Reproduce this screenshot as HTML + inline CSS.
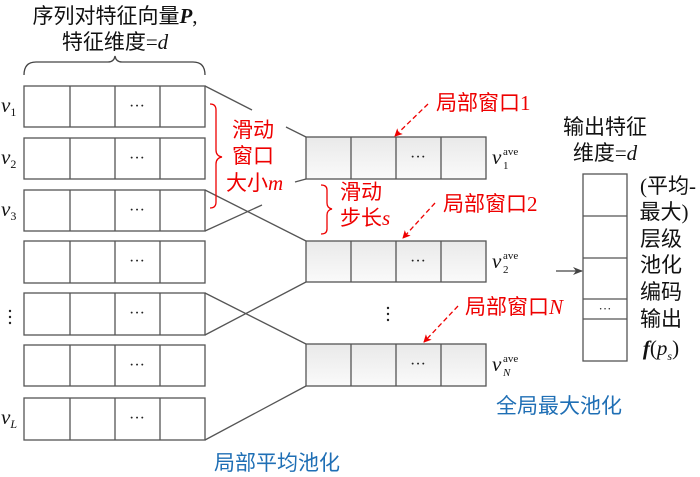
<!DOCTYPE html><html><head><meta charset="utf-8"><style>body{margin:0;background:#fff}svg{display:block}text{font-family:"Liberation Serif","Noto Sans CJK SC",serif}</style></head><body>
<svg width="700" height="477" viewBox="0 0 700 477" xmlns="http://www.w3.org/2000/svg">
<defs><linearGradient id="g" x1="0" y1="0" x2="0" y2="1"><stop offset="0" stop-color="#e9e9e9"/><stop offset="1" stop-color="#fafafa"/></linearGradient>
<marker id="ar" markerWidth="8" markerHeight="8" refX="7" refY="4" orient="auto" markerUnits="userSpaceOnUse"><path d="M0,0 L8,4 L0,8 L2,4z" fill="#e00"/></marker>
<marker id="ak" markerWidth="10" markerHeight="8" refX="9" refY="4" orient="auto" markerUnits="userSpaceOnUse"><path d="M0,0 L10,4 L0,8 L3,4z" fill="#444"/></marker></defs>
<g font-size="21" fill="#111" text-anchor="middle">
<text x="115" y="23">序列对特征向量<tspan font-style="italic" font-weight="bold">P</tspan>,</text>
<text x="115" y="49">特征维度=<tspan font-style="italic">d</tspan></text>
<text x="605" y="134">输出特征</text>
<text x="605" y="160">维度=<tspan font-style="italic">d</tspan></text>
<text x="668" y="193">(平均-</text>
<text x="664" y="219">最大)</text>
<text x="661" y="246">层级</text>
<text x="661" y="272">池化</text>
<text x="661" y="299">编码</text>
<text x="661" y="326">输出</text>
<text x="661" y="355"><tspan font-style="italic" font-weight="bold">f</tspan>(<tspan font-style="italic">p</tspan><tspan font-size="12" dy="5" font-style="italic">s</tspan><tspan dy="-5">)</tspan></text>
</g>
<path d="M24,75 Q24,62 36,62 L108,62 Q114,62 115,56 Q116,62 122,62 L193,62 Q205,62 205,75" fill="none" stroke="#444" stroke-width="1.3"/>
<g stroke="#555" stroke-width="1.3" fill="#fff">
<rect x="24" y="86" width="181" height="41"/><rect x="24" y="138" width="181" height="41"/><rect x="24" y="190" width="181" height="41"/><rect x="24" y="241" width="181" height="42"/><rect x="24" y="293" width="181" height="42"/><rect x="24" y="345" width="181" height="41"/><rect x="24" y="398" width="181" height="42"/>
<path d="M70,86V127M115,86V127M160,86V127M70,138V179M115,138V179M160,138V179M70,190V231M115,190V231M160,190V231M70,241V283M115,241V283M160,241V283M70,293V335M115,293V335M160,293V335M70,345V386M115,345V386M160,345V386M70,398V440M115,398V440M160,398V440"/>
<g fill="url(#g)"><rect x="306" y="137" width="180" height="42"/><rect x="306" y="241" width="180" height="41"/><rect x="306" y="344" width="180" height="42"/></g>
<path d="M351,137V179M396,137V179M441,137V179M351,241V282M396,241V282M441,241V282M351,344V386M396,344V386M441,344V386"/>
<rect x="583" y="174" width="44" height="187"/>
<path d="M583,216H627M583,258H627M583,299H627M583,319H627"/>
<path fill="none" d="M205,86L252,110M286,127L306,137M205,231L262,205M295,182L306,179M205,190L306,241M205,335L306,282M205,293L306,344M205,440L306,386"/>
</g>
<path d="M556,271H582" stroke="#444" stroke-width="1.3" marker-end="url(#ak)"/>
<g font-size="16" fill="#222" text-anchor="middle"><text x="137" y="111">···</text><text x="137" y="163">···</text><text x="137" y="215">···</text><text x="137" y="266">···</text><text x="137" y="318">···</text><text x="137" y="370">···</text><text x="137" y="423">···</text>
<text x="418" y="162">···</text><text x="418" y="266">···</text><text x="418" y="369">···</text><text x="605" y="313" font-size="13">···</text></g>
<g font-size="21" font-style="italic" fill="#111"><text x="1" y="112">v<tspan font-size="12" font-style="normal" dy="4">1</tspan></text><text x="1" y="164">v<tspan font-size="12" font-style="normal" dy="4">2</tspan></text><text x="1" y="216">v<tspan font-size="12" font-style="normal" dy="4">3</tspan></text><text x="1" y="424">v<tspan font-size="12" dy="4">L</tspan></text>
<text x="492" y="164">v</text><text x="492" y="268">v</text><text x="492" y="371">v</text></g>
<g font-size="11" fill="#111" font-family="Liberation Serif"><text x="503" y="155">ave</text><text x="503" y="169">1</text><text x="503" y="259">ave</text><text x="503" y="273">2</text><text x="503" y="362">ave</text><text x="503" y="376" font-style="italic">N</text></g>
<g fill="#222"><circle cx="10" cy="311" r="1.2"/><circle cx="10" cy="317" r="1.2"/><circle cx="10" cy="323" r="1.2"/><circle cx="388" cy="308" r="1.2"/><circle cx="388" cy="314" r="1.2"/><circle cx="388" cy="320" r="1.2"/></g>
<g stroke="#e00" stroke-width="1.3" fill="none"><path d="M210,104 Q216,104 216,110 L216,150 Q216,156 222,157 Q216,158 216,164 L216,202 Q216,208 210,208"/>
<path d="M321,185 Q327,185 327,190 L327,203 Q327,208 332,209 Q327,210 327,215 L327,229 Q327,234 321,234"/>
<g stroke-dasharray="5,3" marker-end="url(#ar)"><path d="M428,104L395,136"/><path d="M435,203L403,238"/><path d="M458,306L424,342"/></g></g>
<g font-size="21" fill="#e00"><text x="232" y="137">滑动</text><text x="232" y="163">窗口</text><text x="226" y="190">大小<tspan font-style="italic">m</tspan></text>
<text x="340" y="199">滑动</text><text x="340" y="225">步长<tspan font-style="italic">s</tspan></text>
<text x="436" y="110">局部窗口1</text><text x="443" y="211">局部窗口2</text><text x="465" y="314">局部窗口<tspan font-style="italic">N</tspan></text></g>
<g font-size="21" fill="#1f6fb5"><text x="496" y="413">全局最大池化</text><text x="214" y="470">局部平均池化</text></g>
</svg></body></html>
